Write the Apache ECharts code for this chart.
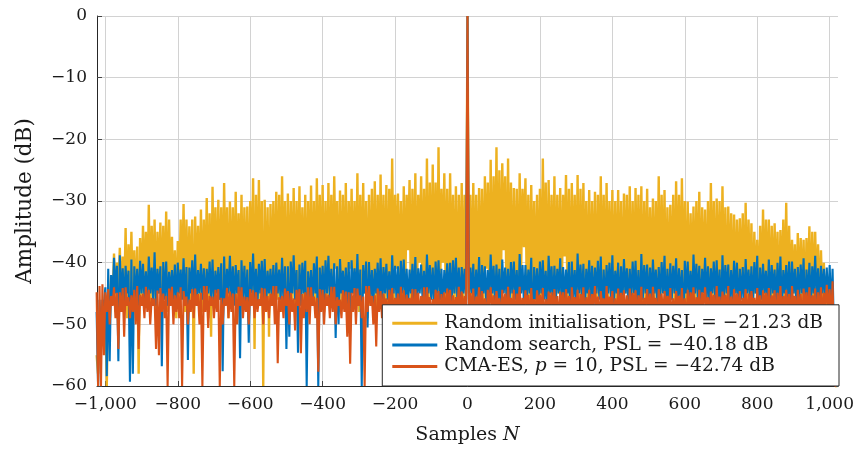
<!DOCTYPE html>
<html>
<head>
<meta charset="utf-8">
<script src="https://cdn.jsdelivr.net/npm/echarts@6/dist/echarts.min.js"></script>
<style>html,body{margin:0;padding:0;background:#fff}#c{width:857px;height:450px}</style>
</head>
<body>
<div id="c"></div>
<script>
// Peaks are read at lags -1024 + 8j (j = 0..256), troughs at lags -1020 + 8j (j = 0..255).
const X_TICKS = [-1000, -800, -600, -400, -200, 0, 200, 400, 600, 800, 1000];

const NAMES = [
  'Random initialisation, PSL = −21.23 dB',
  'Random search, PSL = −40.18 dB',
  'CMA-ES, p = 10, PSL = −42.74 dB'
];

// ---------- Random initialisation (yellow), dB ----------
const initPeaks = [
  -55, -52, -48, -47, -46, -42, -38.5, -40,
  -37.6, -39, -34.4, -37, -35.0, -38, -37.4, -36,
  -34.0, -35, -30.6, -34, -33.0, -35, -33.5, -34,
  -31.7, -33, -35.8, -38, -36.5, -33, -30.5, -33,
  -34.1, -33, -32.5, -34, -31.4, -33, -29.5, -32,
  -27.7, -31, -29.8, -31, -27.1, -31, -30.1, -31,
  -28.5, -32, -29.0, -31, -30.9, -30, -26.3, -29,
  -26.6, -30, -29.8, -31, -30.5, -30, -28.5, -29,
  -26.0, -30, -28.8, -30, -27.9, -30, -27.6, -31,
  -29.0, -30, -27.5, -30, -26.3, -29, -27.4, -30,
  -27.1, -29, -26.0, -30, -28.3, -29, -27.1, -30,
  -28.0, -30, -25.5, -29, -27.1, -30, -29.0, -28,
  -26.8, -29, -25.7, -29, -27.4, -28, -23.1, -29,
  -28.8, -30, -27.6, -29, -26.6, -28, -25.5, -29,
  -26.0, -28, -23.1, -27, -24.1, -27, -21.3, -28,
  -25.5, -28, -25.5, -29, -27.6, -29, -27.1, -29,
  0,
  -29, -27.1, -29, -27.9, -28, -26.0, -27,
  -23.3, -26, -21.3, -25, -23.9, -26, -23.1, -27,
  -27.9, -28, -25.5, -28, -26.3, -29, -27.4, -30,
  -29.0, -28, -23.1, -27, -26.6, -29, -26.0, -29,
  -27.9, -29, -25.8, -28, -27.1, -29, -25.8, -28,
  -27.1, -30, -28.2, -30, -28.5, -29, -26.0, -29,
  -27.1, -30, -28.2, -30, -28.2, -30, -28.8, -29,
  -27.6, -30, -27.9, -29, -27.6, -30, -28.0, -31,
  -29.6, -30, -26.0, -29, -28.2, -31, -30.6, -29,
  -26.8, -29, -26.3, -30, -30.1, -32, -30.9, -30,
  -28.5, -31, -31.4, -30, -27.1, -30, -29.6, -30,
  -27.6, -31, -30.9, -32, -32.2, -33, -32.8, -32,
  -30.3, -33, -33.6, -35, -36.3, -34, -31.4, -33,
  -33.0, -34, -33.6, -35, -34.7, -33, -30.3, -34,
  -36.3, -37, -35.2, -36, -36.3, -36, -34.1, -35,
  -35.0, -37, -38.0, -40, -45, -48, -50, -55, -70
];
const initTroughs = [
  -58, -50, -48, -60, -47, -46, -48, -45,
  -47, -46, -49, -45, -47, -48, -58, -46,
  -45, -47, -48, -46, -49, -45, -47, -46,
  -48, -45, -47, -49, -46, -45, -48, -47,
  -46, -58, -45, -47, -48, -46, -49, -52,
  -45, -47, -46, -48, -45, -49, -47, -46,
  -48, -45, -47, -46, -49, -45, -54, -47,
  -46, -60, -48, -52, -45, -47, -46, -48,
  -45, -49, -47, -46, -48, -45, -47, -46,
  -49, -45, -47, -48, -46, -45, -48, -47,
  -46, -45, -41, -48, -47, -46, -49, -41,
  -45, -47, -48, -46, -45, -49, -47, -46,
  -48, -45, -47, -46, -49, -45, -47, -41,
  -46, -48, -45, -38, -47, -46, -48, -40,
  -45, -47, -49, -46, -45, -48, -47, -40,
  -46, -48, -45, -47, -49, -46, -48, -45,
  -45, -47, -46, -48, -45, -47, -41, -46,
  -48, -45, -47, -46, -38, -48, -45, -47,
  -46, -49, -41, -37.5, -46, -48, -45, -47,
  -46, -48, -45, -49, -47, -46, -48, -45,
  -47, -39, -46, -48, -45, -47, -49, -46,
  -45, -48, -47, -46, -49, -45, -47, -48,
  -46, -45, -48, -47, -46, -49, -45, -47,
  -48, -46, -45, -47, -49, -46, -48, -45,
  -47, -46, -48, -45, -49, -47, -46, -48,
  -45, -47, -46, -49, -48, -45, -47, -46,
  -48, -45, -49, -47, -46, -48, -45, -47,
  -46, -49, -45, -48, -47, -46, -45, -48,
  -47, -46, -49, -45, -48, -47, -46, -45,
  -48, -47, -46, -49, -45, -47, -48, -46,
  -45, -48, -47, -46, -49, -45, -48, -47,
  -46, -48, -47, -49, -50, -52, -58, -65
];

// ---------- Random search (blue), dB ----------
const searchPeaks = [
  -48, -46, -46, -44, -41.0, -42.0, -39.2, -40.5,
  -38.8, -40.9, -40.5, -41.3, -39.5, -40.6, -41.0, -39.7,
  -40.2, -41.4, -39.0, -40.8, -38.3, -41.0, -40.6, -39.9,
  -39.8, -41.5, -41.2, -40.3, -40.0, -41.1, -39.3, -40.7,
  -40.8, -39.6, -38.7, -41.2, -40.2, -40.9, -41.0, -39.8,
  -39.5, -41.3, -40.7, -40.1, -39.0, -41.0, -38.9, -40.6,
  -40.4, -41.2, -39.6, -40.5, -41.1, -39.9, -38.5, -41.0,
  -40.2, -39.7, -39.4, -41.3, -41.0, -40.4, -40.0, -41.1,
  -39.2, -40.6, -40.6, -39.8, -38.8, -41.2, -40.3, -40.0,
  -39.7, -41.4, -41.2, -40.1, -39.0, -40.8, -40.5, -39.6,
  -38.9, -41.0, -40.1, -40.6, -39.4, -41.3, -40.8, -39.9,
  -39.6, -40.9, -38.6, -41.1, -40.4, -39.8, -39.9, -41.2,
  -41.0, -40.0, -39.3, -40.7, -40.2, -41.4, -38.8, -40.5,
  -40.6, -39.7, -39.5, -41.0, -41.1, -40.2, -39.1, -40.9,
  -40.3, -41.3, -38.7, -40.4, -40.8, -39.8, -39.6, -41.0,
  -41.2, -40.1, -40.0, -39.6, -39.2, -40.8, -40.7, -41.0,
  0,
  -40.8, -40.2, -41.1, -39.1, -40.4, -40.6, -41.2,
  -38.7, -40.5, -40.3, -41.0, -39.5, -40.8, -41.0, -39.9,
  -39.8, -41.2, -38.6, -40.4, -40.4, -41.1, -39.2, -40.7,
  -40.9, -39.8, -39.6, -41.3, -38.9, -40.6, -40.5, -41.0,
  -39.3, -40.7, -41.1, -39.9, -39.8, -41.2, -38.5, -40.3,
  -40.2, -41.0, -39.6, -40.5, -40.8, -39.7, -39.0, -41.1,
  -40.4, -40.0, -38.8, -41.3, -40.0, -40.6, -39.4, -40.9,
  -41.0, -39.8, -39.7, -41.2, -38.6, -40.4, -40.3, -40.8,
  -39.5, -41.1, -40.7, -39.9, -38.9, -41.0, -40.1, -40.5,
  -39.3, -40.9, -41.2, -39.7, -39.8, -41.3, -38.7, -40.2,
  -40.5, -41.0, -39.2, -40.6, -40.9, -39.8, -39.6, -41.1,
  -38.8, -40.4, -40.3, -41.2, -39.7, -40.0, -41.0, -40.7,
  -39.4, -41.1, -40.6, -39.9, -38.9, -40.8, -40.2, -41.3,
  -39.5, -40.4, -41.1, -40.0, -39.0, -41.2, -40.4, -39.8,
  -39.8, -41.0, -40.7, -40.3, -39.3, -41.1, -40.0, -40.6,
  -38.9, -40.9, -40.5, -41.0, -40.8, -40.4, -41.0, -55, -70
];
const searchTroughs = [
  -60, -52, -47, -58.4, -56, -46, -45, -56,
  -46, -47, -45, -59.3, -58, -46, -47, -45,
  -46, -47, -45, -46, -47, -45, -56.8, -46,
  -47, -45, -46, -47, -45, -46, -47, -55.8,
  -45, -46, -47, -45, -46, -47, -45, -46,
  -47, -45, -46, -57.6, -47, -45, -46, -47,
  -45, -55.5, -46, -47, -53, -45, -46, -47,
  -45, -46, -47, -45, -46, -47, -45, -46,
  -47, -54, -52, -45, -46, -54.6, -47, -45,
  -60, -46, -47, -45, -60, -46, -47, -45,
  -46, -47, -52.2, -50, -45, -46, -47, -51,
  -45, -46, -47, -60, -45, -50.5, -46, -47,
  -45, -46, -47, -45, -46, -47, -45, -46,
  -47, -45, -46, -47, -45, -46, -47, -45,
  -46, -47, -45, -46, -47, -45, -46, -47,
  -45, -46, -47, -45, -46, -47, -45, -46,
  -46, -45, -47, -46, -48, -45, -47, -46,
  -45, -47, -46, -49, -45, -46, -47, -45,
  -46, -48, -45, -47, -46, -45, -52, -46,
  -47, -45, -46, -48, -45, -47, -46, -45,
  -47, -46, -45, -49, -46, -47, -45, -46,
  -48, -45, -46, -47, -45, -46, -50, -47,
  -45, -46, -47, -45, -48, -46, -45, -47,
  -46, -45, -47, -49, -46, -45, -47, -46,
  -45, -47, -46, -45, -48, -47, -46, -45,
  -47, -46, -51, -45, -46, -47, -45, -46,
  -48, -45, -46, -47, -45, -46, -47, -49,
  -46, -45, -47, -46, -45, -48, -46, -47,
  -45, -46, -47, -45, -50, -46, -45, -47,
  -46, -45, -47, -46, -48, -45, -46, -47,
  -45, -47, -46, -45, -49, -46, -47, -45,
  -46, -47, -45, -46, -47, -48, -52, -62
];

// ---------- CMA-ES, p = 10 (orange), dB ----------
const cmaPeaks = [
  -44.8, -43.8, -43.5, -44.8, -44.3, -45.4, -44.0, -44.9,
  -44.8, -44.1, -44.0, -45.6, -45.3, -44.4, -43.8, -45.2,
  -45.0, -43.9, -44.4, -45.7, -45.8, -44.5, -44.1, -45.0,
  -45.4, -44.2, -43.9, -45.3, -44.8, -44.0, -44.6, -45.5,
  -46.0, -44.3, -44.2, -45.1, -44.9, -43.8, -43.8, -45.4,
  -45.5, -44.4, -44.3, -45.7, -45.8, -44.1, -44.7, -45.0,
  -45.1, -43.9, -44.0, -45.5, -45.6, -44.3, -44.5, -44.8,
  -45.9, -44.1, -44.2, -45.4, -45.0, -43.8, -43.8, -45.6,
  -45.4, -44.2, -44.6, -44.9, -45.8, -44.4, -44.3, -45.1,
  -44.8, -44.0, -44.0, -45.5, -45.7, -44.3, -44.4, -45.0,
  -45.2, -43.9, -43.9, -45.6, -46.0, -44.5, -44.7, -44.8,
  -44.9, -44.1, -44.2, -45.3, -45.5, -43.8, -43.8, -45.4,
  -45.3, -44.2, -44.6, -45.0, -45.8, -44.4, -44.1, -45.7,
  -45.0, -43.9, -44.5, -45.2, -45.7, -44.3, -44.3, -44.9,
  -45.4, -44.0, -44.0, -45.6, -45.9, -44.4, -44.6, -45.1,
  -44.8, -44.2, -44.4, -45.3, -45.6, -43.9, -44.7, -45.4,
  0,
  -44.9, -44.2, -45.5, -44.0, -44.6, -45.8, -44.4,
  -44.0, -45.3, -44.6, -45.8, -44.4, -45.0, -43.9, -45.7,
  -44.4, -45.0, -43.9, -45.7, -44.5, -45.2, -44.1, -45.9,
  -44.5, -45.2, -44.1, -45.9, -44.7, -44.8, -44.3, -45.4,
  -44.7, -44.8, -44.3, -45.4, -44.0, -45.6, -44.4, -45.1,
  -44.0, -45.6, -44.4, -45.1, -43.8, -45.5, -44.6, -45.8,
  -43.8, -45.5, -44.6, -45.8, -44.2, -44.9, -44.5, -45.3,
  -44.2, -44.9, -44.5, -45.3, -43.9, -45.7, -44.3, -45.0,
  -43.9, -45.7, -44.3, -45.0, -44.6, -45.4, -44.1, -45.8,
  -44.6, -45.4, -44.1, -45.8, -44.4, -44.8, -44.0, -45.6,
  -44.4, -44.8, -44.0, -45.6, -44.7, -45.2, -43.8, -45.5,
  -44.7, -45.2, -43.8, -45.5, -44.3, -45.0, -44.6, -45.7,
  -44.3, -45.0, -44.6, -45.7, -44.1, -45.3, -44.5, -44.9,
  -44.1, -45.3, -44.5, -44.9, -43.8, -45.4, -44.4, -45.1,
  -43.8, -45.4, -44.4, -45.1, -44.2, -44.8, -44.0, -45.3,
  -44.2, -44.8, -44.0, -44.9, -43.6, -44.3, -43.0, -60, -70
];
const cmaTroughs = [
  -60, -60, -55, -48, -50, -47, -49, -54,
  -48, -52, -47, -49, -48, -50, -54, -47,
  -49, -48, -50, -47, -54, -55, -48, -49,
  -60, -47, -50, -48, -49, -60, -47, -50,
  -48, -49, -47, -50, -60, -48, -50.6, -47,
  -49, -48, -60, -50, -47, -49, -48, -60,
  -50, -47, -49, -48, -50, -47, -49, -48,
  -47, -50, -48, -49, -47, -50, -56.3, -48,
  -49, -47, -50, -48, -51, -47, -54.7, -49,
  -48, -50, -47, -49, -57.7, -48, -50, -47,
  -49, -48, -50, -47, -49, -48, -52, -56.4,
  -48, -50, -47, -49, -60, -48, -47, -50,
  -53.6, -48, -49, -47, -50, -48, -49, -47,
  -50, -48, -49, -47, -48, -50, -47, -49,
  -48, -50, -47, -49, -48, -47, -50, -48,
  -49, -47, -50, -48, -47, -49, -48, -50,
  -49, -48, -50, -47, -49, -48, -50, -47,
  -48, -49, -47, -50, -48, -49, -47, -48,
  -50, -47, -49, -48, -47, -50, -48, -49,
  -47, -48, -50, -49, -47, -48, -49, -50,
  -47, -49, -48, -50, -47, -48, -49, -47,
  -50, -48, -49, -47, -48, -50, -47, -49,
  -48, -47, -50, -49, -48, -47, -49, -50,
  -48, -47, -49, -48, -50, -47, -48, -49,
  -47, -50, -48, -49, -47, -48, -50, -49,
  -47, -48, -49, -50, -48, -47, -49, -48,
  -50, -47, -48, -49, -47, -50, -48, -49,
  -47, -48, -50, -49, -47, -48, -49, -47,
  -50, -48, -47, -49, -48, -50, -47, -48,
  -49, -47, -50, -48, -49, -47, -48, -50,
  -47, -49, -48, -50, -47, -48, -49, -47,
  -50, -48, -49, -47, -48, -50, -55, -65
];

const COLORS = ['#EDB120', '#0072BD', '#D95319'];
const WIDTHS = [2.4, 2.1, 2.1];
const FONT = 'DejaVu Serif';
const TXT = '#1a1a1a';

// interleave peaks (lag -1024+8j) and troughs (lag -1020+8j) into one trace
function trace(peaks, troughs) {
  const out = [];
  for (let j = 0; j < peaks.length; j++) {
    out.push([-1024 + 8 * j, peaks[j]]);
    if (j < troughs.length) out.push([-1020 + 8 * j, troughs[j]]);
  }
  return out;
}
function fmtNum(v) {
  const a = Math.abs(v).toLocaleString('en-US');
  return v < 0 ? '−' + a : a;
}

const traces = [
  trace(initPeaks, initTroughs),
  trace(searchPeaks, searchTroughs),
  trace(cmaPeaks, cmaTroughs)
];

const chart = echarts.init(document.getElementById('c'), null, { renderer: 'canvas' });
chart.setOption({
  animation: false,
  backgroundColor: '#fff',
  grid: { left: 97, right: 18, top: 16, bottom: 64, containLabel: false },
  xAxis: {
    type: 'value', min: -1023, max: 1023,
    name: 'Samples {i|N}', nameLocation: 'middle', nameGap: 40,
    nameTextStyle: { fontFamily: FONT, fontSize: 19, color: TXT,
      rich: { i: { fontFamily: FONT, fontSize: 19, fontStyle: 'italic', color: TXT } } },
    axisLine: { show: true, onZero: false, lineStyle: { color: '#262626', width: 1 } },
    axisTick: { show: true, inside: true, length: 5, customValues: X_TICKS, lineStyle: { color: '#444' } },
    axisLabel: { customValues: X_TICKS, margin: 10, fontFamily: FONT, fontSize: 17, color: TXT, formatter: fmtNum },
    splitLine: { show: true, lineStyle: { color: '#d2d2d2', width: 1 } }
  },
  yAxis: {
    type: 'value', min: -60, max: 0, interval: 10,
    name: 'Amplitude (dB)', nameLocation: 'middle', nameGap: 61,
    nameTextStyle: { fontFamily: FONT, fontSize: 21.5, color: TXT },
    axisLine: { show: true, onZero: false, lineStyle: { color: '#262626', width: 1 } },
    axisTick: { show: true, inside: true, length: 5, lineStyle: { color: '#444' } },
    axisLabel: { margin: 10, fontFamily: FONT, fontSize: 17, color: TXT, formatter: fmtNum },
    splitLine: { show: true, lineStyle: { color: '#d2d2d2', width: 1 } }
  },
  legend: {
    orient: 'vertical', right: 18, bottom: 64,
    backgroundColor: '#fff', borderColor: '#262626', borderWidth: 1,
    padding: [9, 16, 10, 10], itemGap: 2.6, itemWidth: 45, itemHeight: 3,
    icon: 'rect',
    data: NAMES.map(n => ({ name: n, icon: 'rect' })),
    formatter: n => n.replace('p = 10', '{i|p} = 10'),
    textStyle: { fontFamily: FONT, fontSize: 18.6, color: TXT, lineHeight: 18, padding: [0, 0, 0, 2],
      rich: { i: { fontFamily: FONT, fontSize: 18.6, fontStyle: 'italic', color: TXT, lineHeight: 18 } } }
  },
  series: traces.map((data, k) => ({
    name: NAMES[k], type: 'line', data: data,
    showSymbol: false, symbol: 'none', clip: true, sampling: null,
    color: COLORS[k],
    lineStyle: { color: COLORS[k], width: WIDTHS[k] },
    emphasis: { disabled: true }
  }))
});
</script>
</body>
</html>
